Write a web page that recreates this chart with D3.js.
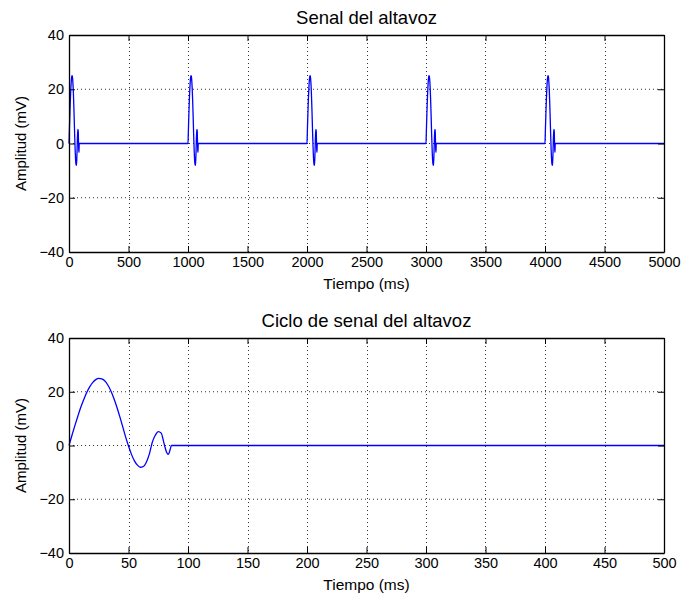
<!DOCTYPE html>
<html>
<head>
<meta charset="utf-8">
<script src="https://cdn.jsdelivr.net/npm/d3@7"></script>
<style>
  body { margin: 0; background: #fff; }
  svg { display: block; font-family: "Liberation Sans", Arial, sans-serif; }
</style>
</head>
<body>
<svg id="chart" width="683" height="601"></svg>
<script>
// one cycle of the speaker signal (ms, mV)
var cycleT = [0, 2.5, 5, 7.5, 10, 12.5, 15, 17.5, 20, 22.5, 25, 27.5, 30, 32.5, 35, 37.5, 40, 42.5, 45, 47.5,
              50, 52.5, 55, 57.5, 60, 62.5, 65, 67.5, 70, 72.5, 75, 77.5, 80, 82, 83.5, 85, 86];
var cycleV = [0, 3.8, 7.5, 11, 14.3, 17.2, 19.8, 21.9, 23.5, 24.5, 25, 24.8, 24.1, 22.6, 20.5, 17.8, 14.6, 11, 7.2, 3.3,
              -0.2, -3.3, -5.7, -7.3, -8.1, -7.8, -6.2, -3.2, 1.2, 3.8, 5.2, 4.6, 0.5, -2.5, -3.3, -1.5, 0];

// start of each cycle in the full signal (ms)
var pulseStarts = [0, 1000, 2000, 3000, 4000];

var topXTicks = [0, 500, 1000, 1500, 2000, 2500, 3000, 3500, 4000, 4500, 5000];
var bottomXTicks = [0, 50, 100, 150, 200, 250, 300, 350, 400, 450, 500];
var yTicks = [-40, -20, 0, 20, 40];

var titles = ['Senal del altavoz', 'Ciclo de senal del altavoz'];
var xLabel = 'Tiempo (ms)';
var yLabel = 'Amplitud (mV)';

function buildSignal (starts, tEnd) {
  var pts = [];
  for (var i = 0; i < starts.length; ++i) {
    for (var j = 0; j < cycleT.length; ++j) {
      pts.push([starts[i] + cycleT[j], cycleV[j]]);
    }
  }
  pts.push([tEnd, 0]);
  return pts;
}

var svg = d3.select('#chart');

var panels = [
  { title: titles[0], xTicks: topXTicks, top: 35, bottom: 252, data: buildSignal(pulseStarts, 5000) },
  { title: titles[1], xTicks: bottomXTicks, top: 338, bottom: 553, data: buildSignal([0], 500) }
];

var left = 69, right = 664;

panels.forEach(function (p) {
  var x = d3.scaleLinear().domain([p.xTicks[0], p.xTicks[p.xTicks.length - 1]]).range([left, right]);
  var y = d3.scaleLinear().domain([yTicks[0], yTicks[yTicks.length - 1]]).range([p.bottom, p.top]);
  var g = svg.append('g');

  // dotted grid
  g.append('g').selectAll('line')
    .data(p.xTicks.slice(1, -1))
    .enter().append('line')
    .attr('x1', function (d) { return Math.round(x(d)) + 0.5; })
    .attr('x2', function (d) { return Math.round(x(d)) + 0.5; })
    .attr('y1', p.top).attr('y2', p.bottom)
    .attr('stroke', '#333').attr('stroke-width', 1).attr('stroke-dasharray', '1,3');
  g.append('g').selectAll('line')
    .data(yTicks.slice(1, -1))
    .enter().append('line')
    .attr('y1', function (d) { return y(d); })
    .attr('y2', function (d) { return y(d); })
    .attr('x1', left).attr('x2', right)
    .attr('stroke', '#333').attr('stroke-width', 1).attr('stroke-dasharray', '1,3');

  // signal
  var line = d3.line()
    .x(function (d) { return x(d[0]); })
    .y(function (d) { return y(d[1]); })
    .curve(d3.curveMonotoneX);
  g.append('path')
    .datum(p.data)
    .attr('d', line)
    .attr('fill', 'none')
    .attr('stroke', '#0000ff')
    .attr('stroke-width', 1.3);

  // axes, ticks pointing inward on all four sides
  var xb = d3.axisBottom(x).tickValues(p.xTicks).tickFormat(d3.format('d')).tickSizeInner(-6).tickSizeOuter(0).tickPadding(5);
  var xt = d3.axisTop(x).tickValues(p.xTicks).tickFormat('').tickSizeInner(-6).tickSizeOuter(0);
  var yl = d3.axisLeft(y).tickValues(yTicks).tickFormat(function (d) { return d < 0 ? '\u2212' + Math.abs(d) : d; }).tickSizeInner(-6).tickSizeOuter(0).tickPadding(5);
  var yr = d3.axisRight(y).tickValues(yTicks).tickFormat('').tickSizeInner(-6).tickSizeOuter(0);

  [
    g.append('g').attr('transform', 'translate(0,' + p.bottom + ')').call(xb),
    g.append('g').attr('transform', 'translate(0,' + p.top + ')').call(xt),
    g.append('g').attr('transform', 'translate(' + left + ',0)').call(yl),
    g.append('g').attr('transform', 'translate(' + right + ',0)').call(yr)
  ].forEach(function (a) {
    a.selectAll('.domain').attr('stroke', '#000').attr('stroke-width', 1.3);
    a.selectAll('.tick line').attr('stroke', '#000');
    a.selectAll('text').attr('fill', '#000').attr('font-size', 14.5).attr('font-family', '"Liberation Sans", Arial, sans-serif');
  });

  g.append('text')
    .attr('x', (left + right) / 2).attr('y', p.top - 11)
    .attr('text-anchor', 'middle').attr('font-size', 18.5)
    .text(p.title);
  g.append('text')
    .attr('x', (left + right) / 2).attr('y', p.bottom + 37)
    .attr('text-anchor', 'middle').attr('font-size', 15.5)
    .text(xLabel);
  g.append('text')
    .attr('transform', 'translate(26,' + (p.top + p.bottom) / 2 + ') rotate(-90)')
    .attr('text-anchor', 'middle').attr('font-size', 15)
    .text(yLabel);
});
</script>
</body>
</html>
